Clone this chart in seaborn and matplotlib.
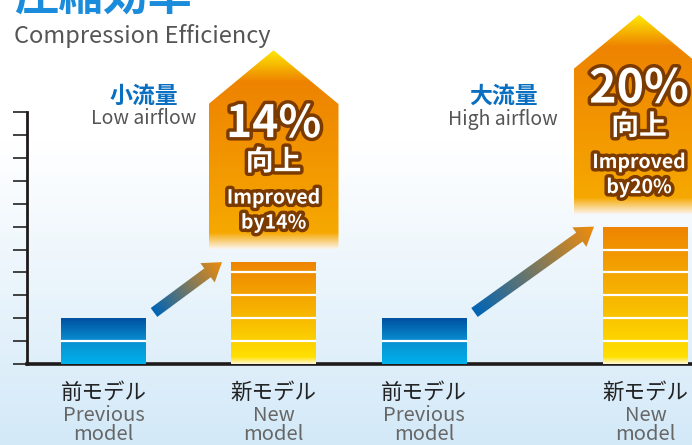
import numpy as np
import pandas as pd
import matplotlib
matplotlib.use("Agg")
import matplotlib.pyplot as plt
import matplotlib.patheffects as pe
from matplotlib.colors import LinearSegmentedColormap
from matplotlib.patches import Polygon
import seaborn as sns

# datos del grafico
title_jp = "圧縮効率"
title_en = "Compression Efficiency"
airflow_jp = ["小流量", "大流量"]
airflow_en = ["Low airflow", "High airflow"]
model_jp = ["前モデル", "新モデル", "前モデル", "新モデル"]
model_en = ["Previous\nmodel", "New\nmodel", "Previous\nmodel", "New\nmodel"]
model_kind = ["prev", "new", "prev", "new"]
efficiency = [2.0, 4.45, 2.0, 6.0]     # altura relativa (escala de 11 marcas)
improvement = [14, 20]                 # % de mejora

# maquetacion (pixeles de la figura)
W, H = 692, 445
bar_x = [103.5, 273.5, 424.0, 645.5]
bar_w = 85
box_x = [273.5, 639.0]
ppu = 22.9            # pixeles por unidad del eje y
base_px = 364         # linea base

sns.set_theme(style="white")
plt.rcParams["font.family"] = ["Noto Sans CJK JP", "DejaVu Sans"]

fig = plt.figure(figsize=(W / 100, H / 100), dpi=100)

# fondo degradado blanco -> celeste
bg = fig.add_axes([0, 0, 1, 1])
bg.axis("off")
bg_cmap = LinearSegmentedColormap.from_list(
    "bg", [(0, "#d3e9f8"), (0.68, "#ffffff"), (1, "#ffffff")])
bg.imshow(np.linspace(0, 1, 256).reshape(-1, 1), cmap=bg_cmap, aspect="auto",
          extent=[0, 1, 0, 1], origin="lower")

ax = fig.add_axes([27 / W, (H - base_px) / H, 1 - 27 / W, base_px / H])
ax.patch.set_alpha(0)

df = pd.DataFrame({"pos": bar_x, "eff": efficiency, "kind": model_kind})
sns.barplot(data=df, x="pos", y="eff", native_scale=True, color="#f39800",
            ax=ax, errorbar=None, zorder=3)

xmin, xmax = 27, W
ymax = base_px / ppu


def grad_in_patch(patch, extent, cmap, zorder):
    # degradado vertical recortado al contorno del patch
    img = ax.imshow(np.linspace(0, 1, 256).reshape(-1, 1), cmap=cmap,
                    extent=extent, aspect="auto", origin="lower", zorder=zorder)
    img.set_clip_path(patch)
    return img


blue_cmap = LinearSegmentedColormap.from_list("b", ["#00b2ea", "#0a8fd2", "#0050a0"])
for p, cx, h, kind in zip(ax.patches, bar_x, efficiency, model_kind):
    p.set_x(cx - bar_w / 2)
    p.set_width(bar_w)
    p.set_facecolor("none")
    p.set_edgecolor("none")
    if kind == "prev":
        cmap = blue_cmap
    else:
        f = 0.3 / h
        cmap = LinearSegmentedColormap.from_list(
            "o", [(0, "#fff8d8"), (f, "#ffe000"), (1, "#ee8400")])
    grad_in_patch(p, [cx - bar_w / 2, cx + bar_w / 2, 0, h], cmap, 3)
    lines = np.arange(1, np.ceil(h))
    ax.hlines(lines, cx - bar_w / 2, cx + bar_w / 2, color="white", lw=1.6, zorder=4)

# cajas con flecha hacia arriba (mejora)
box_w = 130
box_h = 6.35
apex_h = 2.35
new_vals = [efficiency[1], efficiency[3]]
big_size = [32, 33.5]
for i, (cx, v) in enumerate(zip(box_x, new_vals)):
    bot = v + 0.55
    sh = bot + box_h
    top = sh + apex_h
    poly = Polygon([(cx - box_w / 2, bot), (cx + box_w / 2, bot), (cx + box_w / 2, sh),
                    (cx, top), (cx - box_w / 2, sh)], closed=True,
                   facecolor="none", edgecolor="none", zorder=2)
    ax.add_patch(poly)
    tot = top - bot
    cmap = LinearSegmentedColormap.from_list(
        "box", [(0, "#fbf3ea"), (0.7 / tot, "#f6a800"),
                ((tot - 1.4) / tot, "#ee8300"), (1, "#ffec00")])
    grad_in_patch(poly, [cx - box_w / 2, cx + box_w / 2, bot, top], cmap, 2)

    stroke = [pe.withStroke(linewidth=5, foreground="#7a3a00")]
    ax.text(cx, sh - 20 / ppu, f"{improvement[i]}%", ha="center", va="center",
            fontsize=big_size[i], fontweight="bold", color="white", path_effects=stroke,
            zorder=5)
    ax.text(cx, sh - 58 / ppu, "向上", ha="center", va="center",
            fontsize=20, fontweight="bold", color="white", path_effects=stroke, zorder=5)
    ax.text(cx, sh - 94 / ppu, "Improved", ha="center", va="center",
            fontsize=14, fontweight="bold", color="white", path_effects=stroke, zorder=5)
    ax.text(cx, sh - 119 / ppu, f"by{improvement[i]}%", ha="center", va="center",
            fontsize=14, fontweight="bold", color="white", path_effects=stroke, zorder=5)

# flechas diagonales con degradado azul -> naranja
arrow_cmap = LinearSegmentedColormap.from_list("a", ["#0064b6", "#ef8c0c"])
for j in range(2):
    prev_i, new_i = 2 * j, 2 * j + 1
    t0 = np.array([bar_x[prev_i] + bar_w / 2 + 8, (efficiency[prev_i] + 0.25) * ppu])
    t1 = np.array([bar_x[new_i] - bar_w / 2 - 9, efficiency[new_i] * ppu])
    d = (t1 - t0) / np.linalg.norm(t1 - t0)
    n = np.array([-d[1], d[0]])
    neck = t1 - d * 18
    pts = [t0 + n * 5.5, neck + n * 5.5, neck + n * 12, t1, neck - n * 12,
           neck - n * 5.5, t0 - n * 5.5]
    pts = [(p[0], p[1] / ppu) for p in pts]
    arr = Polygon(pts, closed=True, facecolor="none", edgecolor="none", zorder=3)
    ax.add_patch(arr)
    xs = np.array([p[0] for p in pts])
    ys = np.array([p[1] for p in pts]) * ppu
    gx, gy = np.meshgrid(np.linspace(xs.min(), xs.max(), 120),
                         np.linspace(ys.min(), ys.max(), 120))
    L = np.linalg.norm(t1 - t0)
    tt = np.clip(((gx - t0[0]) * d[0] + (gy - t0[1]) * d[1]) / L, 0, 1)
    img = ax.imshow(tt, cmap=arrow_cmap, origin="lower", aspect="auto", zorder=3,
                    extent=[xs.min(), xs.max(), ys.min() / ppu, ys.max() / ppu])
    img.set_clip_path(arr)

# etiquetas de flujo
for j, cx in enumerate([144, 503]):
    ax.text(cx, (base_px - 96) / ppu, airflow_jp[j], ha="center", va="center",
            fontsize=16.5, fontweight="bold", color="#0a6fc0", zorder=5)
    ax.text(cx, (base_px - 119) / ppu, airflow_en[j], ha="center", va="center",
            fontsize=14, color="#555555", zorder=5)

# etiquetas del eje x
for cx, jp, en in zip(bar_x, model_jp, model_en):
    ax.annotate(jp, (cx, 0), xytext=(0, -29 * 0.72), textcoords="offset points",
                ha="center", va="center", fontsize=15.5, color="#222222",
                annotation_clip=False)
    ax.annotate(en, (cx, 0), xytext=(0, -61 * 0.72), textcoords="offset points",
                ha="center", va="center", fontsize=14.5, color="#666666",
                linespacing=0.88, annotation_clip=False)

ax.set_xlim(xmin, xmax)
ax.set_ylim(0, ymax)
ax.set_xticks([])
ax.set_yticks(range(0, 12))
ax.set_yticklabels([])
ax.set_xlabel("")
ax.set_ylabel("")
ax.tick_params(axis="y", left=True, direction="out", length=10, width=1.3, color="#333333")
for s in ["top", "right"]:
    ax.spines[s].set_visible(False)
ax.spines["left"].set_bounds(0, 11)
ax.spines["left"].set_color("#1e1a1a")
ax.spines["left"].set_linewidth(2.0)
ax.spines["bottom"].set_color("#1e1a1a")
ax.spines["bottom"].set_linewidth(2.6)

# titulo (cortado arriba)
fig.text(14 / W, 1 - 10 / H, title_jp, ha="left", va="baseline", fontsize=32,
         fontweight="bold", color="#1a8cdb")
fig.text(14 / W, 1 - 43 / H, title_en, ha="left", va="baseline", fontsize=17,
         color="#555555")

fig.savefig("out.png", dpi=100)
